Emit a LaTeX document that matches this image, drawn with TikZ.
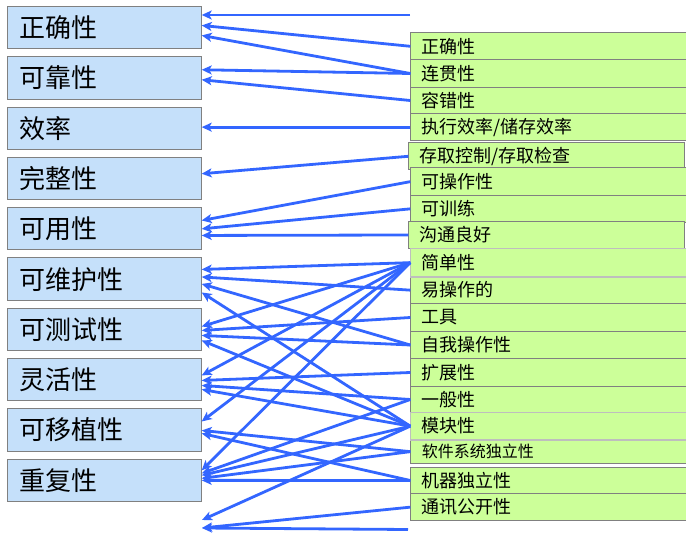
\documentclass[tikz,border=0pt]{standalone}
\usepackage{fontspec}
\usepackage{tikz}
\usetikzlibrary{arrows.meta}
\newfontfamily\cjk{Noto Sans CJK SC}
\definecolor{qfill}{RGB}{197,224,250}
\definecolor{cfill}{RGB}{204,255,153}
\definecolor{boxline}{RGB}{128,128,128}
\definecolor{boxlight}{RGB}{190,190,190}
\definecolor{linkblue}{RGB}{51,102,255}
\begin{document}
\begin{tikzpicture}[x=1pt,y=-1pt,
  qbox/.style={draw=boxline,line width=1pt,fill=qfill,anchor=north west,
    minimum height=42.3pt,inner xsep=12pt,inner ysep=0pt,text width=169.7pt,
    align=left,font=\cjk\fontsize{26}{26}\selectfont},
  cbox/.style={draw=boxline,line width=1pt,fill=cfill,anchor=north west,
    inner xsep=11pt,inner ysep=0pt,text width=253.4pt,
    align=left,font=\cjk\fontsize{18}{18}\selectfont},
  link/.style={draw=linkblue,line width=2.8pt,-{Stealth[length=10pt,width=9pt,inset=2.5pt]}}]
  \useasboundingbox (0,0) rectangle (686,540);
  % quality factors
  \foreach \i/\txt in {1/正确性,2/可靠性,3/效率,4/完整性,5/可用性,
                       6/可维护性,7/可测试性,8/灵活性,9/可移植性,10/重复性} {
    \node[qbox] (q\i) at (7,{6+50.3*(\i-1)}) {\txt};
  }
  % criteria
  \foreach \i/\x/\y/\h/\txt in {1/410.3/32.3/27/正确性,2/410.3/59.3/27.4/连贯性,
      3/410.3/86.7/26.6/容错性,4/410.3/113.3/26.7/{执行效率/储存效率},
      5/408.3/142.3/27/{存取控制/存取检查},6/410.3/167.3/27.7/可操作性,
      7/410.3/195/26.7/可训练,8/408.3/220.7/27.6/沟通良好,
      9/410.3/248.3/27.7/简单性,10/410.3/276/27.3/易操作的,
      11/410.3/303.3/27.4/工具,12/410.3/330.7/27.6/自我操作性,
      13/410.3/358.3/27.4/扩展性,14/410.3/385.7/26.6/一般性,
      15/410.3/412.3/26.7/模块性,
      16/410.3/439/24.3/{\fontsize{16}{16}\selectfont 软件系统独立性},
      17/410.3/466.7/26.6/机器独立性,18/410.3/493.3/26.7/通讯公开性} {
    \node[cbox,minimum height=\h pt] (c\i) at (\x,\y) {\txt};
  }
  % lighter frames
  \draw[boxlight,line width=1.5pt] (c9.north west) rectangle (c9.south east);
  \draw[boxlight,line width=1.5pt] (c15.north west) rectangle (c15.south east);
  \coordinate (t0) at (410,15);
  \coordinate (e1) at (202,520);
  \coordinate (e2) at (202,528);
  \coordinate (s0) at (408,529.5);
  % top
  \draw[link] (t0) -- (t0 -| q1.east);
  \draw[link] (c1.west) -- ([yshift=2.2]q1.east);
  \draw[link] (c2.west) -- ([yshift=-7.8]q1.east);
  \draw[link] (c2.west) -- ([yshift=8.2]q2.east);
  \draw[link] (c3.west) -- ([yshift=-1.8]q2.east);
  \draw[link] (c4.west) -- ([yshift=1.1]q3.east);
  \draw[link] (c5.west) -- ([yshift=4.8]q4.east);
  \draw[link] (c6.west) -- ([yshift=8.4]q5.east);
  \draw[link] (c7.west) -- (q5.east);
  \draw[link] (c8.west) -- ([yshift=-6.6]q5.east);
  % middle
  \draw[link] (c9.west) -- ([yshift=9.7]q6.east);
  \draw[link] (c10.west) -- ([yshift=2.2]q6.east);
  \draw[link] (c12.west) -- ([yshift=-4.8]q6.east);
  \draw[link] (c15.west) -- ([yshift=-13.3]q6.east);
  \draw[link] (c9.west) -- ([yshift=3]q7.east);
  \draw[link] (c11.west) -- ([yshift=-1]q7.east);
  \draw[link] (c12.west) -- ([yshift=-6]q7.east);
  \draw[link] (c15.west) -- ([yshift=-11]q7.east);
  \draw[link] (c9.west) -- ([yshift=4.3]q8.east);
  \draw[link] (c13.west) -- ([yshift=-0.7]q8.east);
  \draw[link] (c14.west) -- ([yshift=-5.7]q8.east);
  \draw[link] (c15.west) -- ([yshift=-9.7]q8.east);
  % bottom
  \draw[link] (c9.west) -- ([yshift=8.6]q9.east);
  \draw[link] (c16.west) -- ([yshift=-0.4]q9.east);
  \draw[link] (c17.west) -- ([yshift=-3.4]q9.east);
  \draw[link] (c9.west) -- ([yshift=10]q10.east);
  \draw[link] (c14.west) -- ([yshift=7]q10.east);
  \draw[link] (c15.west) -- ([yshift=5]q10.east);
  \draw[link] (c16.west) -- ([yshift=2]q10.east);
  \draw[link] (c17.west) -- (q10.east);
  \draw[link] (c15.west) -- (e1);
  \draw[link] (c18.west) -- (e2);
  \draw[link] (s0) -- (e2);
\end{tikzpicture}
\end{document}
